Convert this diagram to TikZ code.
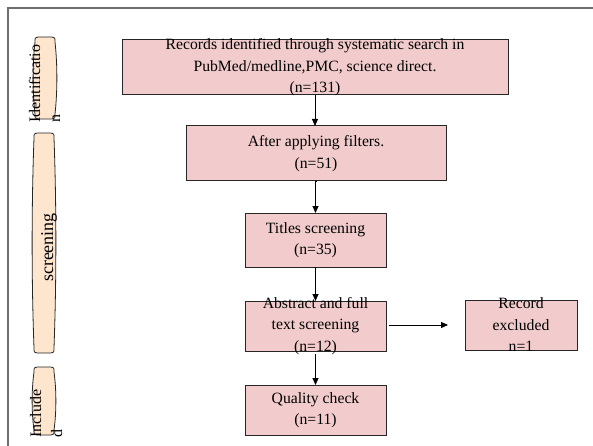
\documentclass[tikz,border=0pt]{standalone}
\usepackage{fontspec}
\setmainfont{Liberation Serif}
\usetikzlibrary{arrows.meta}
\definecolor{boxpink}{RGB}{242,204,204}
\definecolor{sidepeach}{RGB}{253,229,206}
\definecolor{framegray}{RGB}{110,110,110}
\tikzset{
  flowbox/.style={draw=black!85, line width=1pt, fill=boxpink, inner sep=0pt, outer sep=0pt},
  flowtext/.style={align=center, inner sep=0pt, font=\fontsize{15.7}{21.5}\selectfont},
  flowarrow/.style={draw=black, line width=0.9pt, -{Triangle[length=7pt,width=6pt]}},
  sidecap/.style={draw=black!85, line width=0.8pt, fill=sidepeach},
  sidetext/.style={rotate=90, inner sep=0pt, font=\fontsize{16}{21}\selectfont},
}
\begin{document}
\begin{tikzpicture}[x=1pt,y=-1pt]
\useasboundingbox (0,0) rectangle (593,446);
% partial frame
\draw[framegray, line width=1.2pt] (8,446) -- (8,8) -- (593,8);

% side capsules
\foreach \xa/\ya/\xb/\yb in {35/37/55/119, 34/133/54/353, 34/367/54/435}{
  \draw[sidecap]
    ({\xa+3},\ya) -- ({\xb-3},\ya)
    .. controls (\xb,\ya) and (\xb,{\ya+1}) .. (\xb,{\ya+5})
    .. controls ({\xb+2.5},{\ya+(\yb-\ya)/3}) and ({\xb+2.5},{\yb-(\yb-\ya)/3}) .. (\xb,{\yb-5})
    .. controls (\xb,{\yb-1}) and (\xb,\yb) .. ({\xb-3},\yb)
    -- ({\xa+3},\yb)
    .. controls (\xa,\yb) and (\xa,{\yb-1}) .. (\xa,{\yb-5})
    .. controls ({\xa-2.5},{\yb-(\yb-\ya)/3}) and ({\xa-2.5},{\ya+(\yb-\ya)/3}) .. (\xa,{\ya+5})
    .. controls (\xa,{\ya+1}) and (\xa,\ya) .. ({\xa+3},\ya) -- cycle;
}
\node[sidetext, anchor=base west] (sid1) at (40,123) {Identificatio};
\node[sidetext, anchor=base west] (sid1b) at (60,123) {n};
\node[sidetext, anchor=base, font=\fontsize{18}{21}\selectfont] (sid2) at (53,247.5) {screening};
\node[sidetext, anchor=base west] (sid3) at (41,438) {Include};
\node[sidetext, anchor=base west] (sid3b) at (62,438) {d};

% boxes
\node[flowbox, minimum width=386pt, minimum height=55pt] (b1) at (315,67.5) {};
\node[flowtext] (t1) at (b1.center) {Records identified through systematic search in\\PubMed/medline,PMC, science direct.\\(n=131)};
\node[flowbox, minimum width=260pt, minimum height=55pt] (b2) at (316,153.5) {};
\node[flowtext] (t2) at (b2.center) {After applying filters.\\(n=51)};
\node[flowbox, minimum width=141pt, minimum height=54pt] (b3) at (315.5,240) {};
\node[flowtext] (t3) at (b3.center) {Titles screening\\(n=35)};
\node[flowbox, minimum width=141pt, minimum height=50pt] (b4) at (315.5,326) {};
\node[flowtext] (t4) at (b4.center) {Abstract and full\\text screening\\(n=12)};
\node[flowbox, minimum width=112pt, minimum height=50pt] (b5) at (521,325) {};
\node[flowtext] (t5) at (b5.center) {Record\\excluded\\n=1};
\node[flowbox, minimum width=141pt, minimum height=50pt] (b6) at (315.5,410) {};
\node[flowtext] (t6) at (b6.center) {Quality check\\(n=11)};

% arrows
\draw[flowarrow] (b1.south) -- (b1.south |- b2.north);
\draw[flowarrow] (b2.south) -- (b2.south -| b3.north) -- (b3.north);
\draw[flowarrow] (b3.south) -- (b4.north);
\draw[flowarrow] ([yshift=-3pt]b4.south) -- (b6.north);
\draw[flowarrow] ([xshift=3pt]b4.east |- b5.west) -- ([xshift=-17pt]b5.west);
\end{tikzpicture}
\end{document}
